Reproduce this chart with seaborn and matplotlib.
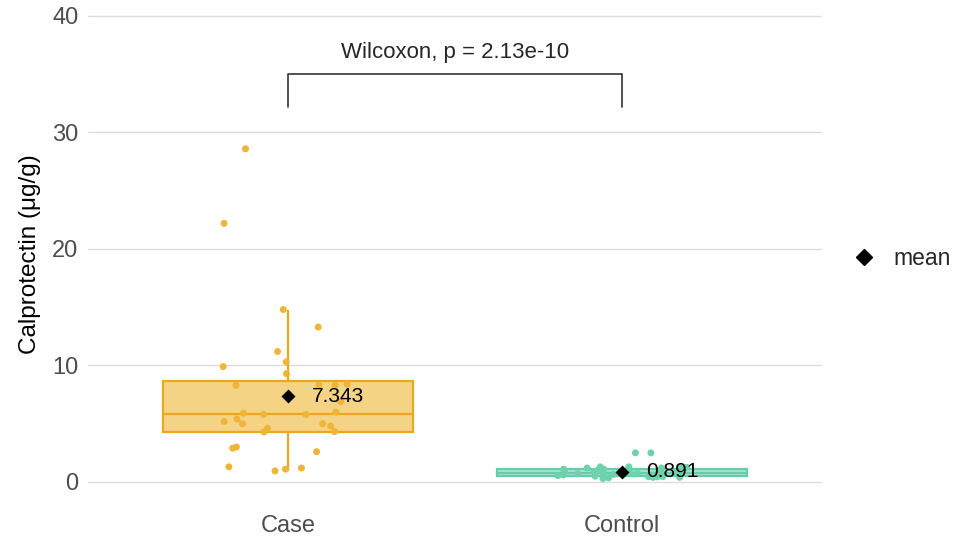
import numpy as np
import pandas as pd
import matplotlib
matplotlib.use("Agg")
import matplotlib.pyplot as plt
from matplotlib.lines import Line2D
import seaborn as sns

# === Data ===
groups = ["Case", "Control"]
case_values = [28.6, 22.2, 14.8, 13.3, 11.2, 10.3, 9.9, 9.3, 8.4, 8.3, 8.3, 8.3,
               6.9, 6.0, 5.9, 5.8, 5.2, 5.4, 5.8, 5.0, 5.0, 4.8, 4.6, 4.3,
               3.0, 2.9, 2.6, 1.2, 1.3, 1.1, 0.95, 4.326]
control_values = [2.5, 2.5, 1.3, 1.3, 1.25, 1.3, 1.2, 1.2, 1.1, 1.1, 1.0, 1.0,
                  0.95, 0.9, 0.9, 0.85, 0.8, 0.8, 0.75, 0.7, 0.7, 0.65, 0.6, 0.6,
                  0.55, 0.5, 0.5, 0.45, 0.4, 0.4, 0.35, 0.3, 0.45, 0.444]
y_ticks = [0, 10, 20, 30, 40]
test_label = "Wilcoxon, p = 2.13e-10"
bracket_y = 35.0
bracket_drop = 2.8

# colours per group
edge_colors = {"Case": "#EBA71F", "Control": "#66CDAA"}
fill_colors = {"Case": "#F5D384", "Control": "#A8E4CE"}
point_colors = {"Case": "#F0B437", "Control": "#6ED2AE"}

df = pd.DataFrame({
    "group": ["Case"] * len(case_values) + ["Control"] * len(control_values),
    "value": case_values + control_values,
})

# === Figure ===
sns.set_style("white")
plt.rcParams["font.family"] = ["Liberation Sans", "DejaVu Sans"]

fig = plt.figure(figsize=(9.59, 5.40), dpi=100)
ax = fig.add_axes([88 / 959, 0.0643, 734 / 959, 0.932])

# boxes, one call per group so each gets its own edge colour
for g in groups:
    sns.boxplot(data=df[df["group"] == g], x="group", y="value", order=groups,
                color=fill_colors[g], linecolor=edge_colors[g], saturation=1,
                width=0.75, showfliers=False, showcaps=False, linewidth=1.6,
                ax=ax, zorder=2)

# jittered points
np.random.seed(11)
sns.stripplot(data=df, x="group", y="value", hue="group", order=groups,
              palette=point_colors, jitter=0.2, size=5, legend=False,
              ax=ax, zorder=3)

# means
sns.pointplot(data=df, x="group", y="value", order=groups, estimator="mean",
              errorbar=None, linestyle="none", marker="D", color="black",
              markersize=5, ax=ax, zorder=4)
means = df.groupby("group")["value"].mean()
for i, g in enumerate(groups):
    ax.text(i + 0.072, means[g], f"{means[g]:.3f}", fontsize=15,
            va="center", ha="left", color="black", zorder=5)

# significance bracket
ax.plot([0, 0, 1, 1], [bracket_y - bracket_drop, bracket_y, bracket_y, bracket_y - bracket_drop],
        color="#333333", lw=1.2)
ax.text(0.5, bracket_y + 1.0, test_label, ha="center", va="bottom", fontsize=16)

# axes styling
ax.set_xlim(-0.6, 1.6)
ax.set_ylim(-2, 41.2)
ax.set_yticks(y_ticks)
ax.yaxis.grid(True, color="#DCDCDC", lw=1)
ax.xaxis.grid(False)
ax.set_axisbelow(True)
for s in ax.spines.values():
    s.set_visible(False)
ax.tick_params(axis="both", length=4, color="#333333", labelsize=17,
               labelcolor="#4D4D4D", width=0.8)
ax.tick_params(axis="x", pad=3)
ax.tick_params(axis="y", pad=3)
ax.set_xlabel("")
ax.set_ylabel("Calprotectin (μg/g)", fontsize=17.5, color="black", labelpad=8)

handle = Line2D([], [], marker="D", color="black", linestyle="none", markersize=8)
fig.legend([handle], ["mean"], loc="center left", bbox_to_anchor=(0.8895, 0.522),
           frameon=False, fontsize=16.5, handlelength=1, handletextpad=0.78,
           borderpad=0, borderaxespad=0)

fig.savefig("out.png", dpi=100)
